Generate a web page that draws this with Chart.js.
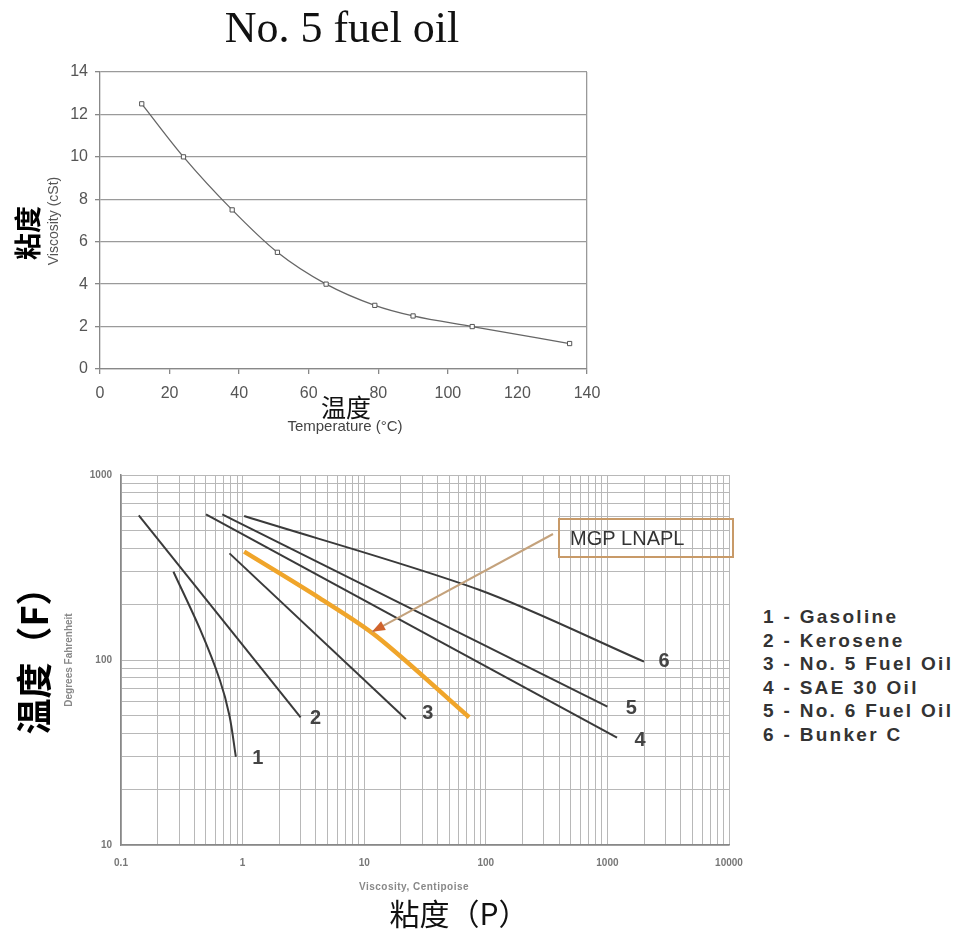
<!DOCTYPE html>
<html>
<head>
<meta charset="utf-8">
<script src="https://cdn.jsdelivr.net/npm/chart.js@4.4.0/dist/chart.umd.min.js"></script>
<style>
  body { margin: 0; background: #fff; width: 958px; height: 932px; position: relative; overflow: hidden; font-family: Arial, "Liberation Sans", sans-serif; }
  canvas { position: absolute; left: 0; }
  .t { position: absolute; white-space: nowrap; transform: translate(-50%, -50%); }
  .rot { transform: translate(-50%, -50%) rotate(-90deg); }
  .cjk { font-family: "Noto Sans CJK SC", sans-serif; }
  #legend { position: absolute; left: 763px; top: 605px; font: bold 19px Arial, "Liberation Sans", sans-serif; color: #333; letter-spacing: 2.3px; line-height: 23.6px; }
</style>
</head>
<body>
<canvas id="topChart" width="620" height="440" style="top:0"></canvas>
<canvas id="bottomChart" width="760" height="482" style="top:450px"></canvas>

<div class="t" style="left:342px;top:27px;font:44px 'Liberation Serif',serif;color:#111">No. 5 fuel oil</div>
<div class="t rot cjk" style="left:26px;top:233px;font-size:27px;font-weight:bold;color:#000">粘度</div>
<div class="t rot" style="left:53px;top:221px;font-size:14px;color:#555">Viscosity (cSt)</div>
<div class="t cjk" style="left:346px;top:406px;font-size:25px;color:#111">温度</div>
<div class="t" style="left:345px;top:425px;font-size:15px;color:#444">Temperature (°C)</div>

<div class="t rot cjk" style="left:32px;top:652px;font-size:36px;font-weight:bold;color:#000">温度（F）</div>
<div class="t rot" style="left:68px;top:660px;font-size:10px;font-weight:bold;color:#888">Degrees Fahrenheit</div>
<div class="t" style="left:414px;top:886px;font-size:10px;font-weight:bold;color:#888;letter-spacing:0.5px">Viscosity, Centipoise</div>
<div class="t cjk" style="left:459px;top:912px;font-size:30px;color:#111">粘度（P）</div>

<div id="legend"></div>

<script>
// ---- top chart: No. 5 fuel oil ----
const temperatureC = [12, 24, 38, 51, 65, 79, 90, 107, 135];
const viscosityCSt = [12.5, 10, 7.5, 5.5, 4, 3, 2.5, 2, 1.2];

// ---- bottom chart: viscosity (cP) vs temperature (F), log-log ----
const gasolineVisc = [0.27, 0.45, 0.65, 0.78, 0.88];
const gasolineTemp = [300, 145, 78, 50, 30];
const keroseneVisc = [0.14, 3];
const keroseneTemp = [605, 49];
const fuelOil5Visc = [0.78, 22];
const fuelOil5Temp = [377, 48];
const sae30Visc = [0.5, 1200];
const sae30Temp = [612, 38];
const fuelOil6Visc = [0.68, 1000];
const fuelOil6Temp = [612, 56];
const bunkerCVisc = [1.03, 89, 2000];
const bunkerCTemp = [600, 239, 98];
const mgpVisc = [1.03, 4.3, 12.7, 73];
const mgpTemp = [385, 216, 134, 49];

const seriesTags = ['1', '2', '3', '4', '5', '6'];
const legendNames = ['Gasoline', 'Kerosene', 'No. 5 Fuel Oil', 'SAE 30 Oil', 'No. 6 Fuel Oil', 'Bunker C'];
const xTickLabels = ['0.1', '1', '10', '100', '1000', '10000'];
const yTickLabels = ['10', '100', '1000'];
const calloutText = 'MGP LNAPL';

document.getElementById('legend').innerHTML =
    seriesTags.map((t, i) => `<div>${t} - ${legendNames[i]}</div>`).join('');

function pts(xs, ys) {
    return xs.map((x, i) => ({ x: x, y: ys[i] }));
}

new Chart(document.getElementById('topChart'), {
    type: 'scatter',
    data: {
        datasets: [{
            data: pts(temperatureC, viscosityCSt),
            showLine: true,
            borderColor: '#666',
            borderWidth: 1.3,
            tension: 0.4,
            cubicInterpolationMode: 'monotone',
            pointStyle: 'rect',
            pointRadius: 3,
            pointBackgroundColor: '#fff',
            pointBorderColor: '#555',
            pointBorderWidth: 1
        }]
    },
    options: {
        responsive: false,
        animation: false,
        devicePixelRatio: 1,
        layout: { padding: { left: 0, top: 72, right: 33, bottom: 31 } },
        plugins: { legend: { display: false }, tooltip: { enabled: false } },
        scales: {
            x: {
                type: 'linear', min: 0, max: 140,
                afterFit: s => { s.height = 40; },
                ticks: { stepSize: 20, color: '#555', font: { size: 16, family: 'Arial' }, padding: 10, maxRotation: 0 },
                grid: {
                    color: c => (c.tick && c.tick.value === 140) ? '#999' : 'rgba(0,0,0,0)',
                    tickColor: '#888', tickLength: 5, lineWidth: 1.3
                },
                border: { color: '#888', width: 1.3 }
            },
            y: {
                min: 0, max: 14,
                afterFit: s => { s.width = 100; },
                ticks: { stepSize: 2, color: '#555', font: { size: 16, family: 'Arial' }, padding: 7 },
                grid: { color: '#9a9a9a', tickColor: '#888', tickLength: 5, lineWidth: 1.3 },
                border: { color: '#888', width: 1.3 }
            }
        }
    }
});

function logGridTicks(lo, hi) {
    const out = [];
    for (let e = Math.round(Math.log10(lo)); e < Math.round(Math.log10(hi)); e++) {
        for (let m = 1; m < 10; m++) out.push({ value: m * Math.pow(10, e) });
    }
    out.push({ value: hi });
    return out;
}

function decadeLabel(labels, v) {
    return labels.find(s => Math.abs(Number(s) / v - 1) < 1e-6) || '';
}

const labelOffsets = [[22, 2], [15, 1], [22, -5], [23, 3], [24, 2], [20, 0]];

const bottomNotes = {
    id: 'bottomNotes',
    afterDatasetsDraw(chart) {
        const ctx = chart.ctx;
        const xs = chart.scales.x, ys = chart.scales.y;
        ctx.save();
        // number tags at the line ends
        ctx.font = 'bold 20px Arial';
        ctx.fillStyle = '#444';
        ctx.textAlign = 'center';
        ctx.textBaseline = 'middle';
        chart.data.datasets.forEach(ds => {
            if (ds.tagIndex === undefined) return;
            const last = ds.data[ds.data.length - 1];
            const off = labelOffsets[ds.tagIndex];
            ctx.fillText(seriesTags[ds.tagIndex], xs.getPixelForValue(last.x) + off[0], ys.getPixelForValue(last.y) + off[1]);
        });

        // callout box
        const bx = xs.right - 170, by = chart.chartArea.top + 44, bw = 174, bh = 38;
        ctx.strokeStyle = '#c89a68';
        ctx.lineWidth = 2;
        ctx.strokeRect(bx, by, bw, bh);
        ctx.font = '20px Arial';
        ctx.fillStyle = '#333';
        ctx.textAlign = 'left';
        ctx.fillText(calloutText, bx + 11, by + bh / 2 + 1);

        // arrow to the orange line
        const tipX = xs.getPixelForValue(11.6), tipY = ys.getPixelForValue(142);
        const tailX = bx - 6, tailY = by + 15;
        ctx.strokeStyle = '#c4a27c';
        ctx.lineWidth = 2;
        ctx.beginPath();
        ctx.moveTo(tailX, tailY);
        ctx.lineTo(tipX, tipY);
        ctx.stroke();
        const ang = Math.atan2(tipY - tailY, tipX - tailX);
        ctx.fillStyle = '#d0632c';
        ctx.beginPath();
        ctx.moveTo(tipX, tipY);
        ctx.lineTo(tipX - 13 * Math.cos(ang) + 5 * Math.sin(ang), tipY - 13 * Math.sin(ang) - 5 * Math.cos(ang));
        ctx.lineTo(tipX - 13 * Math.cos(ang) - 5 * Math.sin(ang), tipY - 13 * Math.sin(ang) + 5 * Math.cos(ang));
        ctx.closePath();
        ctx.fill();
        ctx.restore();
    }
};

function darkLine(xs, ys, idx, curved) {
    return {
        data: pts(xs, ys), tagIndex: idx, showLine: true,
        borderColor: '#3a3a3a', borderWidth: 2, pointRadius: 0,
        tension: curved ? 0.3 : 0
    };
}

new Chart(document.getElementById('bottomChart'), {
    type: 'scatter',
    data: {
        datasets: [
            darkLine(gasolineVisc, gasolineTemp, 0, true),
            darkLine(keroseneVisc, keroseneTemp, 1),
            darkLine(fuelOil5Visc, fuelOil5Temp, 2),
            darkLine(sae30Visc, sae30Temp, 3),
            darkLine(fuelOil6Visc, fuelOil6Temp, 4),
            darkLine(bunkerCVisc, bunkerCTemp, 5, true),
            {
                label: calloutText,
                data: pts(mgpVisc, mgpTemp), showLine: true,
                borderColor: '#f0a52a', borderWidth: 4.5, pointRadius: 0, tension: 0.3
            }
        ]
    },
    options: {
        responsive: false,
        animation: false,
        devicePixelRatio: 1,
        layout: { padding: { left: 0, top: 25, right: 31, bottom: 47 } },
        plugins: { legend: { display: false }, tooltip: { enabled: false } },
        scales: {
            x: {
                type: 'logarithmic', min: 0.1, max: 10000,
                afterBuildTicks: s => { s.ticks = logGridTicks(0.1, 10000); },
                afterFit: s => { s.height = 40; },
                ticks: {
                    autoSkip: false, maxRotation: 0, padding: 12, color: '#777',
                    font: { size: 10, weight: 'bold', family: 'Arial' },
                    callback: v => decadeLabel(xTickLabels, v)
                },
                grid: { color: '#b8b8b8', lineWidth: 1, drawTicks: false },
                border: { color: '#888', width: 1.5 }
            },
            y: {
                type: 'logarithmic', min: 10, max: 1000,
                afterBuildTicks: s => { s.ticks = logGridTicks(10, 1000); },
                afterFit: s => { s.width = 121; },
                ticks: {
                    autoSkip: false, padding: 9, color: '#777',
                    font: { size: 10, weight: 'bold', family: 'Arial' },
                    callback: v => decadeLabel(yTickLabels, v)
                },
                grid: { color: '#b8b8b8', lineWidth: 1, drawTicks: false },
                border: { color: '#888', width: 1.5 }
            }
        }
    },
    plugins: [bottomNotes]
});
</script>
</body>
</html>
